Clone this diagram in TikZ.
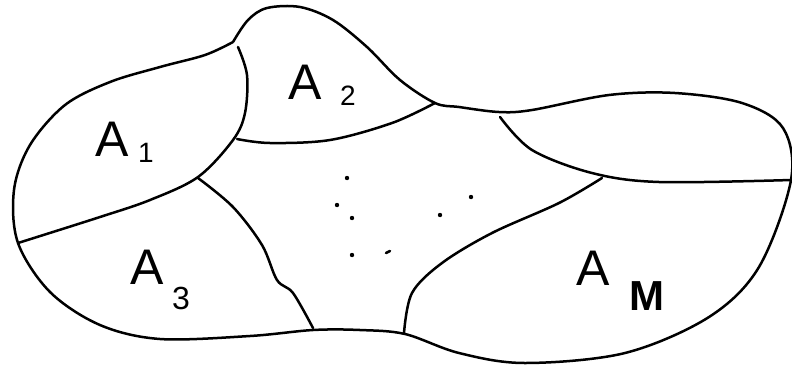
\documentclass[tikz,border=0pt]{standalone}
\usepackage{fontspec}
\setmainfont{Liberation Sans}
\begin{document}
\begin{tikzpicture}[x=1pt,y=-1pt,
  curve/.style={line width=2.5pt, line join=round, line cap=round},
  lab/.style={font=\fontsize{50}{50}\selectfont, inner sep=0pt},
  sub/.style={font=\fontsize{28}{28}\selectfont, inner sep=0pt},
  dot/.style={fill=black, draw=none}]
\useasboundingbox (0,0) rectangle (792,368);
% outer boundary
\draw[curve] plot[smooth, tension=0.55] coordinates {
 (233,42) (205,55) (160,67) (110,82) (65,105) (30,145) (14,190) (18,243)
 (50,292) (100,325) (160,339) (250,336) (313,330) (360,330)
 (405,334) (459,353) (525,363) (625,353) (709,317) (759,267) (791,180)
 (783,128) (742,103) (675,93) (609,95) (532,110) (499,112) (459,107)
 (435,103) (400,80) (367,47) (333,20) (300,7) (267,8) (248,20) (233,42)};
% A1 / A2 divider and A1 lower boundary
\draw[curve] plot[smooth, tension=0.55] coordinates {
 (238,47) (247,75) (245,113) (233,140) (198,177) (150,200) (100,217) (18,243)};
% A2 bottom
\draw[curve] plot[smooth, tension=0.55] coordinates {
 (237,139) (270,143) (330,140) (392,123) (435,103)};
% A3 right divider
\draw[curve] plot[smooth, tension=0.55] coordinates {
 (198,178) (233,207) (262,245) (277,280) (293,293) (313,328)};
% A_M divider
\draw[curve] plot[smooth, tension=0.55] coordinates {
 (602,178) (559,203) (492,233) (442,263) (412,293) (404,333)};
% upper right divider
\draw[curve] plot[smooth, tension=0.55] coordinates {
 (500,117) (532,150) (592,173) (659,182) (791,180)};
% dots
\foreach \p/\q in {347/178, 337/205, 352/218, 352/255, 471/197, 440/215}
  \fill[dot] (\p,\q) circle (2.2);
\draw[curve] (386,253) -- (390,251);
% labels
\node[lab] (a1) at (112,139) {A};
\node[sub] (s1) at (146,153) {1};
\node[lab] (a2) at (305,82) {A};
\node[sub] (s2) at (348,96) {2};
\node[lab] (a3) at (147,267) {A};
\node[sub, font=\fontsize{32}{32}\selectfont] (s3) at (181,298) {3};
\node[lab] (am) at (593,268) {A};
\node[sub, font=\fontsize{42}{42}\selectfont\bfseries] (sm) at (647,296) {M};
\end{tikzpicture}
\end{document}
